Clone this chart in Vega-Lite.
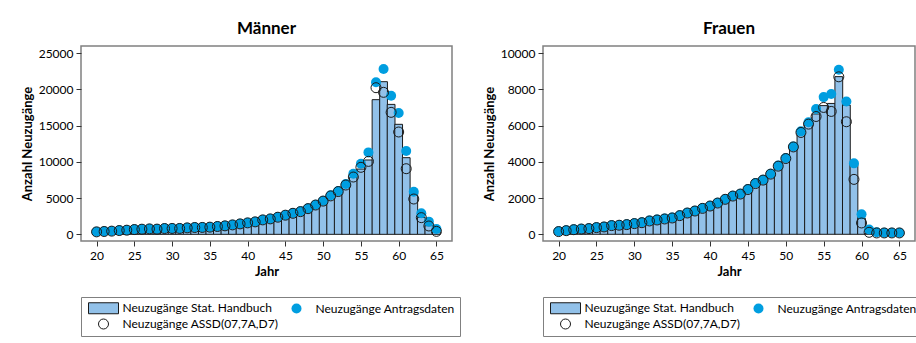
{
  "$schema": "https://vega.github.io/schema/vega-lite/v6.json",
  "padding": {"left": 20, "top": 19, "right": 5, "bottom": 5},
  "spacing": 20,
  "datasets": {
    "maenner": [
      {"age": 20, "handbuch": 250, "antrag": 370, "assd": 340},
      {"age": 21, "handbuch": 300, "antrag": 410, "assd": 390},
      {"age": 22, "handbuch": 350, "antrag": 460, "assd": 440},
      {"age": 23, "handbuch": 420, "antrag": 550, "assd": 520},
      {"age": 24, "handbuch": 470, "antrag": 600, "assd": 570},
      {"age": 25, "handbuch": 540, "antrag": 690, "assd": 660},
      {"age": 26, "handbuch": 590, "antrag": 735, "assd": 710},
      {"age": 27, "handbuch": 630, "antrag": 780, "assd": 750},
      {"age": 28, "handbuch": 620, "antrag": 735, "assd": 720},
      {"age": 29, "handbuch": 690, "antrag": 830, "assd": 800},
      {"age": 30, "handbuch": 700, "antrag": 830, "assd": 810},
      {"age": 31, "handbuch": 710, "antrag": 830, "assd": 810},
      {"age": 32, "handbuch": 790, "antrag": 920, "assd": 890},
      {"age": 33, "handbuch": 840, "antrag": 965, "assd": 940},
      {"age": 34, "handbuch": 860, "antrag": 965, "assd": 950},
      {"age": 35, "handbuch": 900, "antrag": 1010, "assd": 990},
      {"age": 36, "handbuch": 990, "antrag": 1100, "assd": 1080},
      {"age": 37, "handbuch": 1080, "antrag": 1190, "assd": 1170},
      {"age": 38, "handbuch": 1210, "antrag": 1330, "assd": 1300},
      {"age": 39, "handbuch": 1350, "antrag": 1470, "assd": 1440},
      {"age": 40, "handbuch": 1490, "antrag": 1610, "assd": 1580},
      {"age": 41, "handbuch": 1630, "antrag": 1750, "assd": 1720},
      {"age": 42, "handbuch": 1890, "antrag": 2020, "assd": 1990},
      {"age": 43, "handbuch": 2040, "antrag": 2160, "assd": 2130},
      {"age": 44, "handbuch": 2270, "antrag": 2390, "assd": 2360},
      {"age": 45, "handbuch": 2540, "antrag": 2670, "assd": 2640},
      {"age": 46, "handbuch": 2800, "antrag": 2940, "assd": 2900},
      {"age": 47, "handbuch": 3050, "antrag": 3170, "assd": 3130},
      {"age": 48, "handbuch": 3450, "antrag": 3580, "assd": 3540},
      {"age": 49, "handbuch": 3950, "antrag": 4090, "assd": 4040},
      {"age": 50, "handbuch": 4420, "antrag": 4640, "assd": 4580},
      {"age": 51, "handbuch": 5100, "antrag": 5380, "assd": 5300},
      {"age": 52, "handbuch": 5880, "antrag": 5970, "assd": 5900},
      {"age": 53, "handbuch": 6700, "antrag": 6940, "assd": 6800},
      {"age": 54, "handbuch": 7860, "antrag": 8360, "assd": 7900},
      {"age": 55, "handbuch": 9000, "antrag": 9740, "assd": 9240},
      {"age": 56, "handbuch": 10250, "antrag": 11300, "assd": 10060},
      {"age": 57, "handbuch": 18570, "antrag": 20960, "assd": 20220},
      {"age": 58, "handbuch": 21050, "antrag": 22790, "assd": 19580},
      {"age": 59, "handbuch": 17920, "antrag": 19120, "assd": 16820},
      {"age": 60, "handbuch": 15170, "antrag": 16730, "assd": 14110},
      {"age": 61, "handbuch": 10570, "antrag": 11490, "assd": 9050},
      {"age": 62, "handbuch": 5700, "antrag": 5880, "assd": 4870},
      {"age": 63, "handbuch": 2340, "antrag": 2900, "assd": 2300},
      {"age": 64, "handbuch": 1190, "antrag": 1750, "assd": 1150},
      {"age": 65, "handbuch": 500, "antrag": 735, "assd": 410}
    ],
    "frauen": [
      {"age": 20, "handbuch": 100, "antrag": 165, "assd": 150},
      {"age": 21, "handbuch": 140, "antrag": 220, "assd": 200},
      {"age": 22, "handbuch": 190, "antrag": 275, "assd": 255},
      {"age": 23, "handbuch": 220, "antrag": 310, "assd": 290},
      {"age": 24, "handbuch": 250, "antrag": 330, "assd": 315},
      {"age": 25, "handbuch": 300, "antrag": 385, "assd": 370},
      {"age": 26, "handbuch": 340, "antrag": 420, "assd": 405},
      {"age": 27, "handbuch": 410, "antrag": 500, "assd": 480},
      {"age": 28, "handbuch": 430, "antrag": 515, "assd": 500},
      {"age": 29, "handbuch": 470, "antrag": 550, "assd": 535},
      {"age": 30, "handbuch": 520, "antrag": 605, "assd": 590},
      {"age": 31, "handbuch": 580, "antrag": 660, "assd": 640},
      {"age": 32, "handbuch": 670, "antrag": 755, "assd": 735},
      {"age": 33, "handbuch": 730, "antrag": 810, "assd": 790},
      {"age": 34, "handbuch": 790, "antrag": 865, "assd": 845},
      {"age": 35, "handbuch": 850, "antrag": 920, "assd": 900},
      {"age": 36, "handbuch": 980, "antrag": 1050, "assd": 1030},
      {"age": 37, "handbuch": 1120, "antrag": 1195, "assd": 1175},
      {"age": 38, "handbuch": 1230, "antrag": 1305, "assd": 1285},
      {"age": 39, "handbuch": 1380, "antrag": 1450, "assd": 1430},
      {"age": 40, "handbuch": 1510, "antrag": 1580, "assd": 1560},
      {"age": 41, "handbuch": 1680, "antrag": 1745, "assd": 1725},
      {"age": 42, "handbuch": 1880, "antrag": 1950, "assd": 1930},
      {"age": 43, "handbuch": 2060, "antrag": 2130, "assd": 2110},
      {"age": 44, "handbuch": 2180, "antrag": 2240, "assd": 2220},
      {"age": 45, "handbuch": 2430, "antrag": 2500, "assd": 2470},
      {"age": 46, "handbuch": 2760, "antrag": 2830, "assd": 2800},
      {"age": 47, "handbuch": 2950, "antrag": 3015, "assd": 2990},
      {"age": 48, "handbuch": 3280, "antrag": 3345, "assd": 3320},
      {"age": 49, "handbuch": 3720, "antrag": 3790, "assd": 3760},
      {"age": 50, "handbuch": 4130, "antrag": 4210, "assd": 4180},
      {"age": 51, "handbuch": 4780, "antrag": 4850, "assd": 4820},
      {"age": 52, "handbuch": 5620, "antrag": 5680, "assd": 5620},
      {"age": 53, "handbuch": 6140, "antrag": 6180, "assd": 6080},
      {"age": 54, "handbuch": 6640, "antrag": 6910, "assd": 6500},
      {"age": 55, "handbuch": 7100, "antrag": 7570, "assd": 7000},
      {"age": 56, "handbuch": 7220, "antrag": 7740, "assd": 6780},
      {"age": 57, "handbuch": 8700, "antrag": 9080, "assd": 8690},
      {"age": 58, "handbuch": 7130, "antrag": 7330, "assd": 6210},
      {"age": 59, "handbuch": 3880, "antrag": 3915, "assd": 3030},
      {"age": 60, "handbuch": 880, "antrag": 1100, "assd": 625},
      {"age": 61, "handbuch": 55, "antrag": 260, "assd": 110},
      {"age": 62, "handbuch": 20, "antrag": 110, "assd": 75},
      {"age": 63, "handbuch": 15, "antrag": 90, "assd": 75},
      {"age": 64, "handbuch": 15, "antrag": 90, "assd": 75},
      {"age": 65, "handbuch": 15, "antrag": 90, "assd": 75}
    ]
  },
  "config": {
    "font": "Lato",
    "view": {"stroke": "#808080", "strokeWidth": 1.5},
    "axis": {
      "labelFont": "Lato", "labelFontSize": 12, "labelColor": "#000", "labelOverlap": false,
      "titleFont": "Lato", "titleFontSize": 13, "titleFontWeight": "bold", "titleColor": "#000",
      "grid": false, "domain": false, "tickColor": "#333", "tickSize": 5, "labelPadding": 3
    },
    "axisX": {"labelPadding": 4},
    "title": {"font": "Lato", "fontSize": 17, "fontWeight": "bold", "color": "#000", "offset": 8},
    "legend": {
      "orient": "bottom", "direction": "horizontal", "columns": 2,
      "strokeColor": "#808080", "padding": 5, "offset": 19,
      "labelFont": "Lato", "labelFontSize": 12, "labelColor": "#000", "labelLimit": 300,
      "symbolSize": 100, "symbolOffset": 11.5, "labelOffset": 13,
      "rowPadding": 1, "columnPadding": -20, "symbolStrokeWidth": 1, "symbolOpacity": 1
    }
  },
  "resolve": {"scale": {"y": "independent", "fill": "independent", "shape": "independent", "stroke": "independent"}, "legend": {"fill": "independent", "shape": "independent", "stroke": "independent"}},
  "hconcat": [
    {
      "width": 371, "height": 195,
      "title": "Männer",
      "data": {"name": "maenner"},
      "layer": [
        {
          "mark": {"type": "bar", "width": 7.76, "strokeWidth": 1},
          "encoding": {
            "x": {"field": "age", "type": "quantitative", "scale": {"domain": [18.6, 66.4], "nice": false, "zero": false}, "axis": {"values": [20, 25, 30, 35, 40, 45, 50, 55, 60, 65], "title": "Jahr"}},
            "y": {"field": "handbuch", "type": "quantitative", "scale": {"domain": [-920, 25970], "nice": false, "zero": false}, "axis": {"values": [0, 5000, 10000, 15000, 20000, 25000], "title": "Anzahl Neuzugänge", "format": "d"}},
            "fill": {"datum": "Neuzugänge Stat. Handbuch", "type": "nominal", "scale": {"domain": ["Neuzugänge Stat. Handbuch", "Neuzugänge Antragsdaten", "Neuzugänge ASSD(07,7A,D7)"], "range": ["#92c1e9", "#009ee0", "rgba(0,0,0,0)"]}, "legend": {"title": null, "labelFont": "Lato", "labelFontSize": 12, "columnPadding": -20}},
            "stroke": {"datum": "Neuzugänge Stat. Handbuch", "type": "nominal", "scale": {"domain": ["Neuzugänge Stat. Handbuch", "Neuzugänge Antragsdaten", "Neuzugänge ASSD(07,7A,D7)"], "range": ["#1a1a1a", "rgba(0,0,0,0)", "#1a1a1a"]}, "legend": {"title": null, "labelFont": "Lato", "labelFontSize": 12, "columnPadding": -20}}
          }
        },
        {
          "mark": {"type": "point", "filled": true, "size": 100, "opacity": 1, "strokeWidth": 1},
          "encoding": {
            "x": {"field": "age", "type": "quantitative"},
            "y": {"field": "antrag", "type": "quantitative", "axis": {"values": [0, 5000, 10000, 15000, 20000, 25000], "title": "Anzahl Neuzugänge", "format": "d"}},
            "fill": {"datum": "Neuzugänge Antragsdaten", "type": "nominal", "legend": {"title": null, "labelFont": "Lato", "labelFontSize": 12, "columnPadding": -20}},
            "stroke": {"datum": "Neuzugänge Antragsdaten", "type": "nominal", "legend": {"title": null, "labelFont": "Lato", "labelFontSize": 12, "columnPadding": -20}},
            "shape": {"datum": "Neuzugänge Antragsdaten", "type": "nominal", "scale": {"domain": ["Neuzugänge Stat. Handbuch", "Neuzugänge Antragsdaten", "Neuzugänge ASSD(07,7A,D7)"], "range": ["M-3,-1.1H3V1.1H-3Z", "circle", "circle"]}, "legend": {"title": null, "labelFont": "Lato", "labelFontSize": 12, "columnPadding": -20}}
          }
        },
        {
          "mark": {"type": "point", "filled": true, "size": 100, "opacity": 1, "strokeWidth": 1},
          "encoding": {
            "x": {"field": "age", "type": "quantitative"},
            "y": {"field": "assd", "type": "quantitative", "axis": {"values": [0, 5000, 10000, 15000, 20000, 25000], "title": "Anzahl Neuzugänge", "format": "d"}},
            "fill": {"datum": "Neuzugänge ASSD(07,7A,D7)", "type": "nominal", "legend": {"title": null, "labelFont": "Lato", "labelFontSize": 12, "columnPadding": -20}},
            "stroke": {"datum": "Neuzugänge ASSD(07,7A,D7)", "type": "nominal", "legend": {"title": null, "labelFont": "Lato", "labelFontSize": 12, "columnPadding": -20}},
            "shape": {"datum": "Neuzugänge ASSD(07,7A,D7)", "type": "nominal", "legend": {"title": null, "labelFont": "Lato", "labelFontSize": 12, "columnPadding": -20}}
          }
        }
      ]
    },
    {
      "width": 372, "height": 195,
      "title": "Frauen",
      "data": {"name": "frauen"},
      "layer": [
        {
          "mark": {"type": "bar", "width": 7.78, "strokeWidth": 1},
          "encoding": {
            "x": {"field": "age", "type": "quantitative", "scale": {"domain": [18.6, 66.4], "nice": false, "zero": false}, "axis": {"values": [20, 25, 30, 35, 40, 45, 50, 55, 60, 65], "title": "Jahr"}},
            "y": {"field": "handbuch", "type": "quantitative", "scale": {"domain": [-370, 10390], "nice": false, "zero": false}, "axis": {"values": [0, 2000, 4000, 6000, 8000, 10000], "title": "Anzahl Neuzugänge", "format": "d"}},
            "fill": {"datum": "Neuzugänge Stat. Handbuch", "type": "nominal", "scale": {"domain": ["Neuzugänge Stat. Handbuch", "Neuzugänge Antragsdaten", "Neuzugänge ASSD(07,7A,D7)"], "range": ["#92c1e9", "#009ee0", "rgba(0,0,0,0)"]}, "legend": {"title": null, "labelFont": "Lato", "labelFontSize": 12, "columnPadding": -20}},
            "stroke": {"datum": "Neuzugänge Stat. Handbuch", "type": "nominal", "scale": {"domain": ["Neuzugänge Stat. Handbuch", "Neuzugänge Antragsdaten", "Neuzugänge ASSD(07,7A,D7)"], "range": ["#1a1a1a", "rgba(0,0,0,0)", "#1a1a1a"]}, "legend": {"title": null, "labelFont": "Lato", "labelFontSize": 12, "columnPadding": -20}}
          }
        },
        {
          "mark": {"type": "point", "filled": true, "size": 100, "opacity": 1, "strokeWidth": 1},
          "encoding": {
            "x": {"field": "age", "type": "quantitative"},
            "y": {"field": "antrag", "type": "quantitative", "axis": {"values": [0, 2000, 4000, 6000, 8000, 10000], "title": "Anzahl Neuzugänge", "format": "d"}},
            "fill": {"datum": "Neuzugänge Antragsdaten", "type": "nominal", "legend": {"title": null, "labelFont": "Lato", "labelFontSize": 12, "columnPadding": -20}},
            "stroke": {"datum": "Neuzugänge Antragsdaten", "type": "nominal", "legend": {"title": null, "labelFont": "Lato", "labelFontSize": 12, "columnPadding": -20}},
            "shape": {"datum": "Neuzugänge Antragsdaten", "type": "nominal", "scale": {"domain": ["Neuzugänge Stat. Handbuch", "Neuzugänge Antragsdaten", "Neuzugänge ASSD(07,7A,D7)"], "range": ["M-3,-1.1H3V1.1H-3Z", "circle", "circle"]}, "legend": {"title": null, "labelFont": "Lato", "labelFontSize": 12, "columnPadding": -20}}
          }
        },
        {
          "mark": {"type": "point", "filled": true, "size": 100, "opacity": 1, "strokeWidth": 1},
          "encoding": {
            "x": {"field": "age", "type": "quantitative"},
            "y": {"field": "assd", "type": "quantitative", "axis": {"values": [0, 2000, 4000, 6000, 8000, 10000], "title": "Anzahl Neuzugänge", "format": "d"}},
            "fill": {"datum": "Neuzugänge ASSD(07,7A,D7)", "type": "nominal", "legend": {"title": null, "labelFont": "Lato", "labelFontSize": 12, "columnPadding": -20}},
            "stroke": {"datum": "Neuzugänge ASSD(07,7A,D7)", "type": "nominal", "legend": {"title": null, "labelFont": "Lato", "labelFontSize": 12, "columnPadding": -20}},
            "shape": {"datum": "Neuzugänge ASSD(07,7A,D7)", "type": "nominal", "legend": {"title": null, "labelFont": "Lato", "labelFontSize": 12, "columnPadding": -20}}
          }
        }
      ]
    }
  ]
}
